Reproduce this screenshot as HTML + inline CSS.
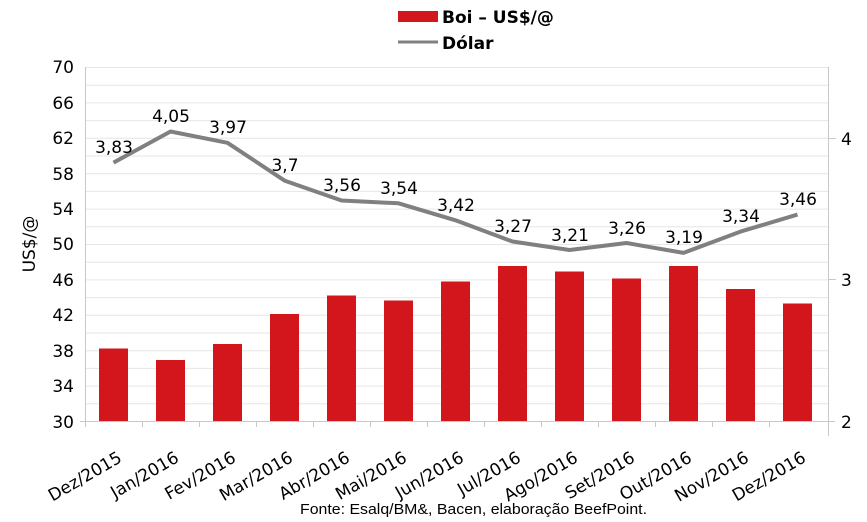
<!DOCTYPE html>
<html><head><meta charset="utf-8"><style>
html,body{margin:0;padding:0;background:#fff;}
svg{display:block;}
text{font-family:"DejaVu Sans",Verdana,sans-serif;fill:#000;}
</style></head><body>
<svg width="867" height="522" viewBox="0 0 867 522" xmlns="http://www.w3.org/2000/svg">
<g stroke="#e6e6e6" stroke-width="1">
<line x1="85" x2="828" y1="67.5" y2="67.5"/><line x1="85" x2="828" y1="85.2" y2="85.2"/><line x1="85" x2="828" y1="102.9" y2="102.9"/><line x1="85" x2="828" y1="120.6" y2="120.6"/><line x1="85" x2="828" y1="138.3" y2="138.3"/><line x1="85" x2="828" y1="156" y2="156"/><line x1="85" x2="828" y1="173.7" y2="173.7"/><line x1="85" x2="828" y1="191.4" y2="191.4"/><line x1="85" x2="828" y1="209.1" y2="209.1"/><line x1="85" x2="828" y1="226.8" y2="226.8"/><line x1="85" x2="828" y1="244.5" y2="244.5"/><line x1="85" x2="828" y1="262.2" y2="262.2"/><line x1="85" x2="828" y1="279.9" y2="279.9"/><line x1="85" x2="828" y1="297.6" y2="297.6"/><line x1="85" x2="828" y1="315.3" y2="315.3"/><line x1="85" x2="828" y1="333" y2="333"/><line x1="85" x2="828" y1="350.7" y2="350.7"/><line x1="85" x2="828" y1="368.4" y2="368.4"/><line x1="85" x2="828" y1="386.1" y2="386.1"/><line x1="85" x2="828" y1="403.8" y2="403.8"/>
</g>
<g stroke="#c8c8c8" stroke-width="1">
<line x1="85.5" x2="85.5" y1="67" y2="421"/><line x1="828.5" x2="828.5" y1="67" y2="436"/>
<line x1="80" x2="835" y1="421.5" y2="421.5"/>
<line x1="85.5" x2="85.5" y1="421" y2="427"/><line x1="142.5" x2="142.5" y1="421" y2="427"/><line x1="199.5" x2="199.5" y1="421" y2="427"/><line x1="256.5" x2="256.5" y1="421" y2="427"/><line x1="313.5" x2="313.5" y1="421" y2="427"/><line x1="370.5" x2="370.5" y1="421" y2="427"/><line x1="427.5" x2="427.5" y1="421" y2="427"/><line x1="484.5" x2="484.5" y1="421" y2="427"/><line x1="541.5" x2="541.5" y1="421" y2="427"/><line x1="598.5" x2="598.5" y1="421" y2="427"/><line x1="655.5" x2="655.5" y1="421" y2="427"/><line x1="712.5" x2="712.5" y1="421" y2="427"/><line x1="769.5" x2="769.5" y1="421" y2="427"/>
<line x1="828" x2="836" y1="138.5" y2="138.5"/><line x1="828" x2="836" y1="279.5" y2="279.5"/>
</g>
<g font-size="17" text-anchor="end">
<text x="74" y="73">70</text><text x="74" y="109">66</text><text x="74" y="144">62</text><text x="74" y="180">58</text><text x="74" y="215">54</text><text x="74" y="250">50</text><text x="74" y="286">46</text><text x="74" y="321">42</text><text x="74" y="357">38</text><text x="74" y="392">34</text><text x="74" y="428">30</text>
</g>
<g font-size="17"><text x="841" y="145">4</text><text x="841" y="286">3</text><text x="841" y="428">2</text></g>
<text font-size="17" transform="translate(35,244) rotate(-90)" text-anchor="middle">US$/@</text>
<g fill="#d2161c">
<rect x="99" y="348.5" width="29" height="72.5"/>
<rect x="156" y="360" width="29" height="61"/>
<rect x="213" y="344" width="29" height="77"/>
<rect x="270" y="314" width="29" height="107"/>
<rect x="327" y="295.5" width="29" height="125.5"/>
<rect x="384" y="300.5" width="29" height="120.5"/>
<rect x="441" y="281.5" width="29" height="139.5"/>
<rect x="498" y="266" width="29" height="155"/>
<rect x="555" y="271.5" width="29" height="149.5"/>
<rect x="612" y="278.5" width="29" height="142.5"/>
<rect x="669" y="266" width="29" height="155"/>
<rect x="726" y="289" width="29" height="132"/>
<rect x="783" y="303.5" width="29" height="117.5"/>
</g>
<polyline fill="none" stroke="#808080" stroke-width="4" stroke-linejoin="round" points="113.5,162.6 170.5,131.5 227.5,142.8 284.5,180.6 341.5,200.5 398.5,203.3 455.5,220.3 512.5,241.5 569.5,250 626.5,243 683.5,252.9 740.5,231.6 797.5,214.6"/>
<g font-size="17" text-anchor="middle">
<text x="114" y="153">3,83</text><text x="171" y="122">4,05</text><text x="228" y="133">3,97</text><text x="285" y="171">3,7</text><text x="342" y="191">3,56</text><text x="399" y="194">3,54</text><text x="456" y="211">3,42</text><text x="513" y="232">3,27</text><text x="570" y="241">3,21</text><text x="627" y="234">3,26</text><text x="684" y="243">3,19</text><text x="741" y="222">3,34</text><text x="798" y="205">3,46</text>
</g>
<g font-size="17" text-anchor="end">
<text transform="translate(123,461) rotate(-30)">Dez/2015</text>
<text transform="translate(180,461) rotate(-30)">Jan/2016</text>
<text transform="translate(237,461) rotate(-30)">Fev/2016</text>
<text transform="translate(294,461) rotate(-30)">Mar/2016</text>
<text transform="translate(351,461) rotate(-30)">Abr/2016</text>
<text transform="translate(408,461) rotate(-30)">Mai/2016</text>
<text transform="translate(465,461) rotate(-30)">Jun/2016</text>
<text transform="translate(522,461) rotate(-30)">Jul/2016</text>
<text transform="translate(579,461) rotate(-30)">Ago/2016</text>
<text transform="translate(636,461) rotate(-30)">Set/2016</text>
<text transform="translate(693,461) rotate(-30)">Out/2016</text>
<text transform="translate(750,461) rotate(-30)">Nov/2016</text>
<text transform="translate(807,461) rotate(-30)">Dez/2016</text>
</g>
<rect x="398" y="11" width="40" height="11" fill="#d2161c"/>
<line x1="398" x2="438" y1="42" y2="42" stroke="#808080" stroke-width="3"/>
<text x="442" y="23" font-size="17" font-weight="bold">Boi – US$/@</text>
<text x="442" y="49" font-size="17" font-weight="bold">Dólar</text>
<text x="300" y="514" font-size="15" textLength="347" lengthAdjust="spacingAndGlyphs" style="font-family:'Liberation Sans',Arial,sans-serif">Fonte: Esalq/BM&amp;, Bacen, elaboração BeefPoint.</text>
</svg>
</body></html>
